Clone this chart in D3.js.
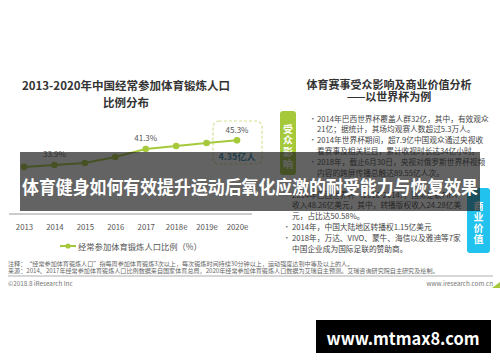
<!DOCTYPE html>
<html>
<head>
<meta charset="utf-8">
<script src="https://cdn.jsdelivr.net/npm/d3@7"></script>
<style>
  body { margin: 0; background: #fff; }
  svg text { font-family: "Noto Sans CJK SC", "Noto Sans", sans-serif; }
</style>
</head>
<body>
<svg id="chart" width="500" height="362"></svg>
<script>
// chart data
const years = ['2013', '2014', '2015', '2016', '2017', '2018e', '2019e', '2020e'];
const ratio = [33.0, 33.9, 34.8, 37.6, 41.3, 42.7, 44.1, 45.3];
const labelledYears = ['2014', '2017', '2020e'];
const legendLabel = '经常参加体育锻炼人口比例（%）';
const highlight = '4.35亿人';

const leftTitle = ['2013-2020年中国经常参加体育锻炼人口', '比例分布'];
const rightTitle = ['体育赛事受众影响及商业价值分析', '——以世界杯为例'];

const audienceItems = [
  ['2014年巴西世界杯覆盖人群32亿，其中，有效观众', '21亿；据统计，其场均观赛人数超过5.3万人。'],
  ['2014年世界杯期间，超7.9亿中国观众通过央视收', '看赛事及相关栏目，累计收视时长达34亿小时。'],
  ['2018年，截止6月30日，央视对俄罗斯世界杯视频', '内容的跨屏传播总触达89.55亿人次。']
];
const businessItems = [
  ['2014年巴西世界杯（2010-2014），国际足联FIFA', '收入48.26亿美元，其中，转播版权收入24.28亿美', '元，占比达50.58%。'],
  ['2014年，中国大陆地区转播权1.15亿美元'],
  ['2018年，万达、VIVO、蒙牛、海信以及雅迪等7家', '中国企业成为国际足联的赞助商。']
];

const notes = [
  '注释：“经常参加体育锻炼人口”指每周参加体育锻炼3次以上，每次锻炼时间持续30分钟以上，运动强度达到中等及以上的人。',
  '来源：2014、2017年经常参加体育锻炼人口比例数据来自国家体育总局，2020年经常参加体育锻炼人口数据为艾瑞自主预测。艾瑞咨询研究院自主研究及绘制。'
];
const banner = '体育健身如何有效提升运动后氧化应激的耐受能力与恢复效果';
const watermark = 'www.mtmax8.com';

const svg = d3.select('#chart');
const green = '#a5c93a';
const data = years.map((y, i) => ({ year: y, value: ratio[i] }));

// titles
svg.append('g').selectAll('text')
  .data(leftTitle)
  .join('text')
    .attr('x', 126).attr('y', (d, i) => 85 + i * 17)
    .attr('text-anchor', 'middle').attr('dominant-baseline', 'central')
    .attr('font-size', 11.5).attr('font-weight', 'bold').attr('fill', '#333')
    .text(d => d);

svg.append('g').selectAll('text')
  .data(rightTitle)
  .join('text')
    .attr('x', 389).attr('y', (d, i) => 84 + i * 12)
    .attr('text-anchor', 'middle').attr('dominant-baseline', 'central')
    .attr('font-size', 11).attr('font-weight', 'bold').attr('fill', '#333')
    .text(d => d);

// line chart
const x = d3.scalePoint().domain(years).range([24, 237]);
const y = d3.scaleLinear().domain([30, 50]).range([173.4, 130.2]);

const xAxis = svg.append('g')
  .attr('transform', 'translate(0,214)')
  .call(d3.axisBottom(x).tickSize(0).tickPadding(10));
xAxis.select('.domain').attr('d', 'M9,0H252').attr('stroke', '#999');
xAxis.selectAll('text')
  .attr('font-size', 7.8).attr('fill', '#555')
  .attr('font-family', '"Noto Sans CJK SC", sans-serif');

// highlight box around 2020e
svg.append('rect')
  .attr('x', x('2020e') - 24).attr('y', 121)
  .attr('width', 49).attr('height', 43).attr('rx', 6)
  .attr('fill', 'none').attr('stroke', '#d3e196')
  .attr('stroke-width', 1.2).attr('stroke-dasharray', '3,2');

svg.append('path')
  .datum(data)
  .attr('fill', 'none').attr('stroke', green).attr('stroke-width', 2)
  .attr('d', d3.line().x(d => x(d.year)).y(d => y(d.value)));

svg.append('g').selectAll('circle')
  .data(data)
  .join('circle')
    .attr('cx', d => x(d.year)).attr('cy', d => y(d.value))
    .attr('r', 3.3).attr('fill', green);

svg.append('g').selectAll('text')
  .data(data.filter(d => labelledYears.includes(d.year)))
  .join('text')
    .attr('x', d => x(d.year)).attr('y', d => y(d.value) - 11)
    .attr('text-anchor', 'middle').attr('dominant-baseline', 'central')
    .attr('font-size', 8).attr('fill', '#555')
    .text(d => d.value.toFixed(1) + '%');

svg.append('text')
  .attr('x', x('2020e')).attr('y', 156)
  .attr('text-anchor', 'middle').attr('dominant-baseline', 'central')
  .attr('font-size', 9).attr('font-weight', 'bold').attr('fill', '#2a86b0')
  .text(highlight);

// legend
const legend = svg.append('g').attr('transform', 'translate(60,246)');
legend.append('line').attr('x1', 0).attr('x2', 16).attr('stroke', green).attr('stroke-width', 2);
legend.append('circle').attr('cx', 8).attr('r', 2.6).attr('fill', green);
legend.append('text')
  .attr('x', 18).attr('dominant-baseline', 'central')
  .attr('font-size', 8.3).attr('fill', '#555')
  .text(legendLabel);

// side tabs
function tab(x0, y0, w, h, color, label, y1, step) {
  svg.append('rect')
    .attr('x', x0).attr('y', y0).attr('width', w).attr('height', h)
    .attr('rx', 3).attr('fill', color);
  svg.append('g').selectAll('text')
    .data(label.split(''))
    .join('text')
      .attr('x', x0 + w / 2).attr('y', (d, i) => y1 + i * step)
      .attr('text-anchor', 'middle').attr('dominant-baseline', 'central')
      .attr('font-size', 10).attr('font-weight', 'bold').attr('fill', '#fff')
      .text(d => d);
}
tab(280, 111, 16, 64, green, '受众影响', 128, 11.7);
tab(467, 188, 23, 65, '#22c2ee', '商业价值', 205, 11);

// bullet lists
function bullets(items, bx, tx, y0) {
  let row = 0;
  const g = svg.append('g');
  items.forEach(lines => {
    g.append('text')
      .attr('x', bx).attr('y', y0 + row * 10.9)
      .attr('dominant-baseline', 'central')
      .attr('font-size', 7.5).attr('fill', '#666').text('•');
    lines.forEach(t => {
      g.append('text')
        .attr('x', tx).attr('y', y0 + row * 10.9)
        .attr('dominant-baseline', 'central')
        .attr('font-size', 7.7).attr('fill', '#444').text(t);
      row++;
    });
  });
}
bullets(audienceItems, 309, 317, 118);
bullets(businessItems, 283, 292, 194);

// footer
svg.append('g').selectAll('text')
  .data(notes)
  .join('text')
    .attr('x', 8).attr('y', (d, i) => 263 + i * 7)
    .attr('dominant-baseline', 'central')
    .attr('font-size', 6.1).attr('fill', '#666')
    .text(d => d);
svg.append('line')
  .attr('x1', 8).attr('x2', 493).attr('y1', 276).attr('y2', 276)
  .attr('stroke', '#999').attr('stroke-width', 0.8);
svg.append('text')
  .attr('x', 8).attr('y', 283).attr('dominant-baseline', 'central')
  .attr('font-size', 6.3).attr('fill', '#777').text('©2018.8 iResearch Inc');
svg.append('text')
  .attr('x', 493).attr('y', 283).attr('text-anchor', 'end').attr('dominant-baseline', 'central')
  .attr('font-size', 6.3).attr('fill', '#777').text('www.iresearch.com.cn');
svg.append('path').attr('d', 'M492,288L500,282L500,288Z').attr('fill', green);

// banner overlay
svg.append('rect')
  .attr('x', 20).attr('y', 152).attr('width', 460).attr('height', 59)
  .attr('fill', 'rgba(25,25,25,0.68)');
svg.append('text')
  .attr('x', 250).attr('y', 186)
  .attr('text-anchor', 'middle').attr('dominant-baseline', 'central')
  .attr('font-size', 18.5).attr('font-weight', 'bold').attr('fill', '#fff')
  .attr('textLength', 456).attr('lengthAdjust', 'spacingAndGlyphs')
  .text(banner);

// watermark
svg.append('rect')
  .attr('x', 316).attr('y', 320).attr('width', 175).attr('height', 33)
  .attr('fill', '#000');
svg.append('text')
  .attr('x', 403).attr('y', 337)
  .attr('text-anchor', 'middle').attr('dominant-baseline', 'central')
  .attr('font-family', '"Liberation Sans", Arial, sans-serif')
  .attr('font-size', 17).attr('font-weight', 'bold').attr('fill', '#fff')
  .attr('textLength', 153).attr('lengthAdjust', 'spacingAndGlyphs')
  .text(watermark);
</script>
</body>
</html>
